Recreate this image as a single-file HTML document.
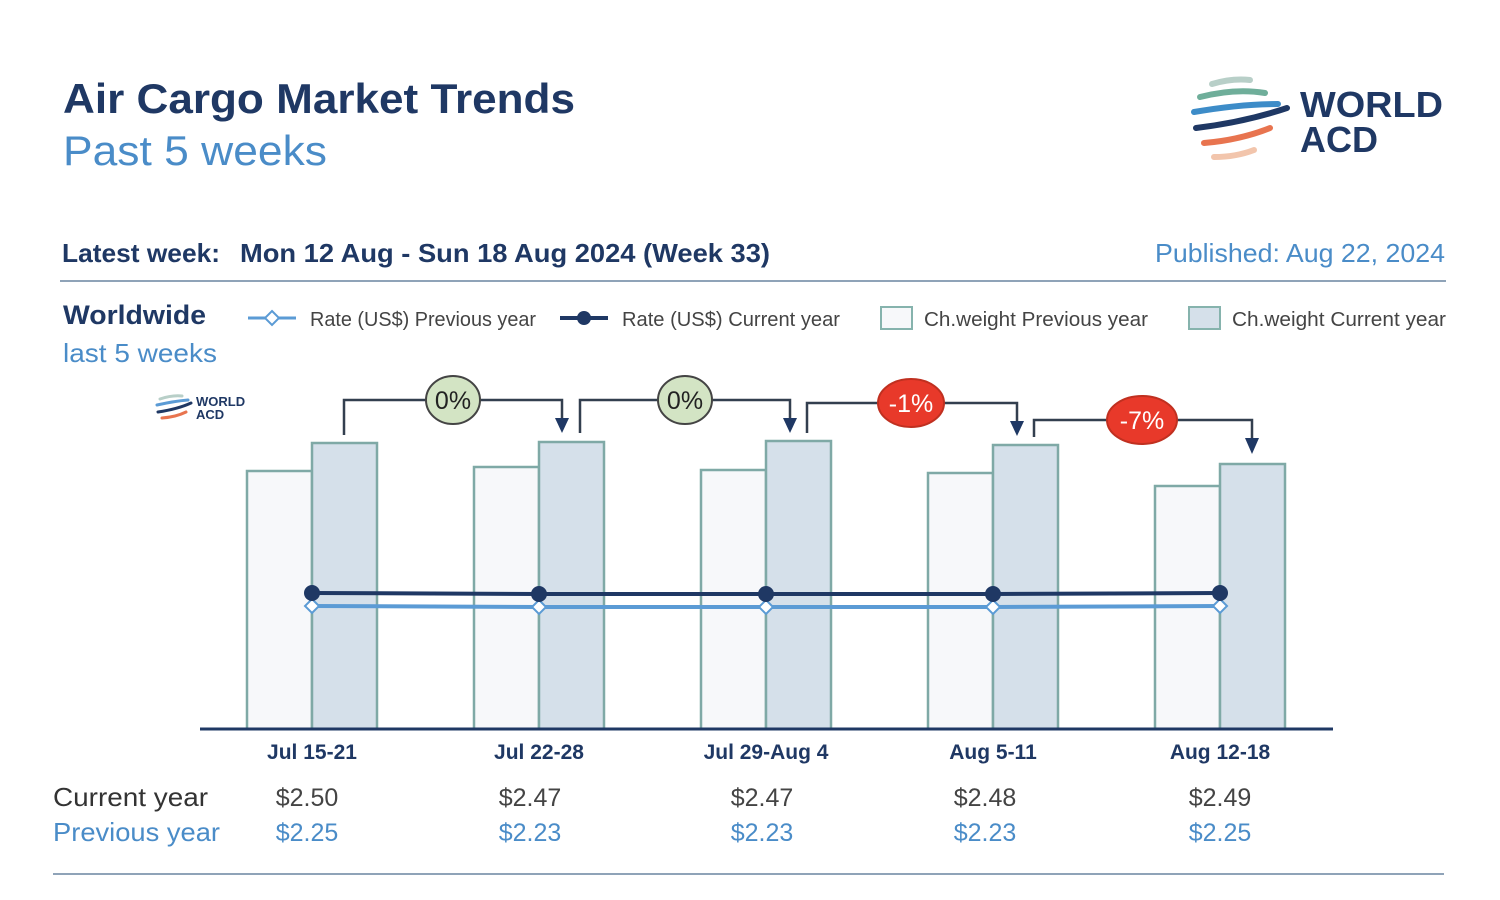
<!DOCTYPE html><html><head><style>body{margin:0;background:#fff}svg{display:block;font-family:"Liberation Sans",sans-serif}</style></head><body>
<svg width="1500" height="900" viewBox="0 0 1500 900">
<text x="63" y="113" font-size="42" font-weight="bold" fill="#1f3864" textLength="512" lengthAdjust="spacingAndGlyphs">Air Cargo Market Trends</text>
<text x="63" y="165" font-size="42" fill="#4a8cc8" textLength="264" lengthAdjust="spacingAndGlyphs">Past 5 weeks</text>
<g fill="none" stroke-width="6" stroke-linecap="round">
<path d="M1212 84 Q1232 78 1250 80" stroke="#b8cfc8"/>
<path d="M1200 97 Q1235 88 1265 93" stroke="#6fae9a"/>
<path d="M1194 112 Q1240 104 1278 104" stroke="#3d8cc8"/>
<path d="M1196 128 Q1245 122 1287 108" stroke="#1f3864"/>
<path d="M1204 143 Q1240 140 1270 128" stroke="#e8744f"/>
<path d="M1214 157 Q1236 157 1254 150" stroke="#f2c5ac"/>
</g>
<text x="1300" y="117" font-size="36" font-weight="bold" fill="#1f3864" textLength="143" lengthAdjust="spacingAndGlyphs">WORLD</text>
<text x="1300" y="152" font-size="36" font-weight="bold" fill="#1f3864" textLength="78" lengthAdjust="spacingAndGlyphs">ACD</text>
<text x="62" y="262" font-size="26" font-weight="bold" fill="#1f3864" textLength="158" lengthAdjust="spacingAndGlyphs">Latest week:</text>
<text x="240" y="262" font-size="26" font-weight="bold" fill="#1f3864" textLength="530" lengthAdjust="spacingAndGlyphs">Mon 12 Aug - Sun 18 Aug 2024 (Week 33)</text>
<text x="1445" y="262" font-size="26" fill="#4a8cc8" text-anchor="end" textLength="290" lengthAdjust="spacingAndGlyphs">Published: Aug 22, 2024</text>
<line x1="60" y1="281" x2="1446" y2="281" stroke="#8fa3b8" stroke-width="2"/>
<text x="63" y="324" font-size="27" font-weight="bold" fill="#1f3864" textLength="143" lengthAdjust="spacingAndGlyphs">Worldwide</text>
<text x="63" y="362" font-size="26" fill="#4a8cc8" textLength="154" lengthAdjust="spacingAndGlyphs">last 5 weeks</text>
<line x1="248" y1="318" x2="296" y2="318" stroke="#5b9bd5" stroke-width="3"/>
<path d="M272 311 L279 318 L272 325 L265 318Z" fill="#fff" stroke="#5b9bd5" stroke-width="2"/>
<text x="310" y="326" font-size="20" fill="#444" textLength="226" lengthAdjust="spacingAndGlyphs">Rate (US$) Previous year</text>
<line x1="560" y1="318" x2="608" y2="318" stroke="#1f3864" stroke-width="4"/>
<circle cx="584" cy="318" r="7" fill="#1f3864"/>
<text x="622" y="326" font-size="20" fill="#444" textLength="218" lengthAdjust="spacingAndGlyphs">Rate (US$) Current year</text>
<rect x="881" y="307" width="31" height="22" fill="#f7f8fa" stroke="#86b3ad" stroke-width="2"/>
<text x="924" y="326" font-size="20" fill="#444" textLength="224" lengthAdjust="spacingAndGlyphs">Ch.weight Previous year</text>
<rect x="1189" y="307" width="31" height="22" fill="#d5e0ea" stroke="#86b3ad" stroke-width="2"/>
<text x="1232" y="326" font-size="20" fill="#444" textLength="214" lengthAdjust="spacingAndGlyphs">Ch.weight Current year</text>
<g fill="none" stroke-width="3" stroke-linecap="round">
<path d="M160 399 Q172 395 182 396" stroke="#b8cfc8"/>
<path d="M157 405 Q175 401 188 400" stroke="#5b9bd5"/>
<path d="M158 412 Q178 409 191 403" stroke="#1f3864"/>
<path d="M162 418 Q176 417 186 412" stroke="#e8744f"/>
</g>
<text x="196" y="406" font-size="13" font-weight="bold" fill="#1f3864">WORLD</text>
<text x="196" y="419" font-size="13" font-weight="bold" fill="#1f3864">ACD</text>
<g stroke="#7fa9a6" stroke-width="2.5">
<rect x="247" y="471" width="65" height="258" fill="#f7f8fa"/><rect x="312" y="443" width="65" height="286" fill="#d5e0ea"/>
<rect x="474" y="467" width="65" height="262" fill="#f7f8fa"/><rect x="539" y="442" width="65" height="287" fill="#d5e0ea"/>
<rect x="701" y="470" width="65" height="259" fill="#f7f8fa"/><rect x="766" y="441" width="65" height="288" fill="#d5e0ea"/>
<rect x="928" y="473" width="65" height="256" fill="#f7f8fa"/><rect x="993" y="445" width="65" height="284" fill="#d5e0ea"/>
<rect x="1155" y="486" width="65" height="243" fill="#f7f8fa"/><rect x="1220" y="464" width="65" height="265" fill="#d5e0ea"/>
</g>
<line x1="200" y1="729" x2="1333" y2="729" stroke="#1f3864" stroke-width="3"/>
<polyline points="312,606 539,607 766,607 993,607 1220,606" fill="none" stroke="#5b9bd5" stroke-width="4"/>
<polyline points="312,593 539,594 766,594 993,594 1220,593" fill="none" stroke="#1f3864" stroke-width="4"/>
<g fill="#fff" stroke="#5b9bd5" stroke-width="2">
<path d="M312 599 L319 606 L312 613 L305 606Z"/><path d="M539 600 L546 607 L539 614 L532 607Z"/><path d="M766 600 L773 607 L766 614 L759 607Z"/><path d="M993 600 L1000 607 L993 614 L986 607Z"/><path d="M1220 599 L1227 606 L1220 613 L1213 606Z"/>
</g>
<g fill="#1f3864"><circle cx="312" cy="593" r="8"/><circle cx="539" cy="594" r="8"/><circle cx="766" cy="594" r="8"/><circle cx="993" cy="594" r="8"/><circle cx="1220" cy="593" r="8"/></g>
<g fill="none" stroke="#333f4f" stroke-width="2.5">
<path d="M344 435 V400 H562 V420"/><path d="M580 433 V400 H790 V420"/><path d="M807 433 V403 H1017 V423"/><path d="M1034 437 V420 H1252 V440"/>
</g>
<g fill="#1f3864"><path d="M555 418 L569 418 L562 433Z"/><path d="M783 418 L797 418 L790 433Z"/><path d="M1010 421 L1024 421 L1017 436Z"/><path d="M1245 438 L1259 438 L1252 454Z"/></g>
<g stroke="#444" stroke-width="2">
<ellipse cx="453" cy="400" rx="27" ry="24" fill="#d3e4c4"/><ellipse cx="685" cy="400" rx="27" ry="24" fill="#d3e4c4"/>
<ellipse cx="911" cy="403" rx="33" ry="24" fill="#e8392a" stroke="#c03020"/><ellipse cx="1142" cy="420" rx="35" ry="24" fill="#e8392a" stroke="#c03020"/>
</g>
<g font-size="25" text-anchor="middle"><text x="453" y="409" fill="#222">0%</text><text x="685" y="409" fill="#222">0%</text><text x="911" y="412" fill="#fff">-1%</text><text x="1142" y="429" fill="#fff">-7%</text></g>
<g font-size="21" font-weight="bold" fill="#1f3864" text-anchor="middle">
<text x="312" y="759">Jul 15-21</text><text x="539" y="759">Jul 22-28</text><text x="766" y="759">Jul 29-Aug 4</text><text x="993" y="759">Aug 5-11</text><text x="1220" y="759">Aug 12-18</text></g>
<text x="53" y="806" font-size="26" fill="#333" textLength="155" lengthAdjust="spacingAndGlyphs">Current year</text>
<text x="53" y="841" font-size="26" fill="#4a8cc8" textLength="167" lengthAdjust="spacingAndGlyphs">Previous year</text>
<g font-size="25" text-anchor="middle" fill="#444"><text x="307" y="806">$2.50</text><text x="530" y="806">$2.47</text><text x="762" y="806">$2.47</text><text x="985" y="806">$2.48</text><text x="1220" y="806">$2.49</text></g>
<g font-size="25" text-anchor="middle" fill="#4a8cc8"><text x="307" y="841">$2.25</text><text x="530" y="841">$2.23</text><text x="762" y="841">$2.23</text><text x="985" y="841">$2.23</text><text x="1220" y="841">$2.25</text></g>
<line x1="53" y1="874" x2="1444" y2="874" stroke="#8fa3b8" stroke-width="2"/>
</svg></body></html>
